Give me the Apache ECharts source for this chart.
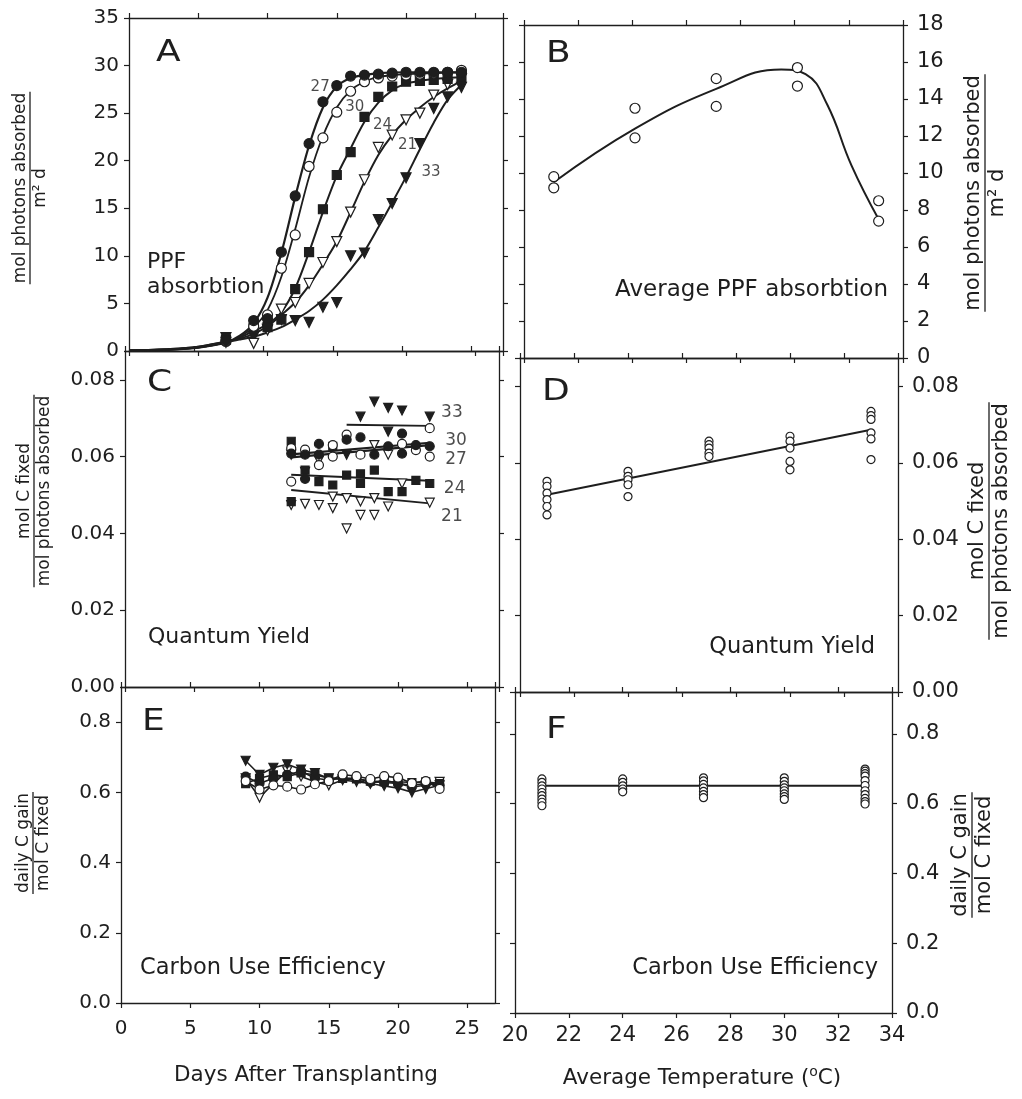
<!DOCTYPE html>
<html>
<head>
<meta charset="utf-8">
<script src="https://cdn.jsdelivr.net/npm/echarts@6.0.0/dist/echarts.min.js"></script>
<style>
html,body{margin:0;padding:0;background:#ffffff;}
#chart{width:1022px;height:1099px;}
</style>
</head>
<body>
<div id="chart"></div>
<script>
// ================= DATA =================
// Panel A: PPF absorption (mol photons m-2 d-1) vs days after transplanting, by temperature
const daysA = [7, 9, 10, 11, 12, 13, 14, 15, 16, 17, 18, 19, 20, 21, 22, 23, 24];
const ppf21 = [0.9, 0.8, 2.2, 4.4, 5.1, 7.1, 9.3, 11.5, 14.6, 18.0, 21.4, 22.7, 24.3, 25.0, 26.9, 28.0, 28.6];
const ppf24 = [1.2, 2.4, 2.5, 3.3, 6.5, 10.4, 14.9, 18.5, 20.9, 24.6, 26.7, 27.8, 28.3, 28.4, 28.5, 28.6, 28.7];
const ppf27 = [1.1, 3.2, 3.4, 10.4, 16.3, 21.8, 26.2, 27.9, 28.9, 29.0, 29.1, 29.2, 29.3, 29.3, 29.3, 29.3, 29.3];
const ppf30 = [1.0, 2.6, 3.8, 8.7, 12.2, 19.4, 22.4, 25.1, 27.3, 28.3, 28.7, 28.9, 29.0, 29.1, 29.2, 29.3, 29.5];
const ppf33 = [1.4, 1.5, 2.3, 3.3, 3.2, 3.0, 4.6, 5.1, 10.0, 10.3, 13.8, 15.5, 18.2, 21.8, 25.5, 26.7, 27.7];
// Panel A fitted curves as [day, value]
const fitA21 = [[0,0.05],[3,0.2],[5,0.45],[7,1.0],[8,1.3],[9,1.8],[10,2.6],[11,3.8],[12,5.1],[13,6.9],[14,9.1],[15,11.5],[16,14.6],[17,17.8],[18,20.6],[19,22.7],[20,24.3],[21,25.6],[22,26.7],[23,27.6],[24.3,28.6]];
const fitA24 = [[0,0.05],[3,0.15],[5,0.4],[7,0.9],[8,1.4],[9,2.1],[10,2.8],[11,4.1],[12,6.6],[13,10.4],[14,14.6],[15,18.4],[16,21.3],[17,24.1],[18,26.1],[19,27.4],[20,28.1],[21,28.4],[22,28.6],[24.3,28.8]];
const fitA27 = [[0,0.05],[3,0.15],[5,0.35],[7,0.9],[8,1.6],[9,2.9],[10,5.6],[11,10.3],[12,16.2],[13,21.6],[14,25.6],[15,27.8],[16,28.7],[17,29.0],[18,29.2],[20,29.3],[24.3,29.3]];
const fitA30 = [[0,0.05],[3,0.15],[5,0.35],[7,0.9],[8,1.5],[9,2.5],[10,4.3],[11,7.8],[12,12.8],[13,18.3],[14,22.6],[15,25.6],[16,27.4],[17,28.3],[18,28.8],[19,29.0],[20,29.1],[22,29.2],[24.3,29.3]];
const fitA33 = [[0,0.05],[3,0.2],[5,0.45],[7,0.95],[8,1.2],[9,1.5],[10,1.95],[11,2.5],[12,3.3],[13,4.2],[14,5.4],[15,6.9],[16,8.6],[17,10.5],[18,13.0],[19,15.6],[20,18.3],[21,21.2],[22,24.0],[23,26.4],[24.3,28.4]];

// Panel B: average PPF absorption vs average temperature (two replicates)
const ppfAvg = [[21.1,9.8],[21.1,9.2],[24.1,13.5],[24.1,11.9],[27.1,15.1],[27.1,13.6],[30.1,15.7],[30.1,14.7],[33.1,8.5],[33.1,7.4]];
const ppfAvgFit = [[21.1,9.5],[24.1,12.4],[27.1,14.55],[29.5,15.6],[30.4,15.35],[31.2,13.7],[32.1,10.4],[33.1,7.5]];

// Panel C: quantum yield (mol C fixed / mol photons absorbed) vs days
const qy21 = [[12,0.0605],[12,0.0474],[13,0.0560],[13,0.0477],[14,0.0590],[14,0.0474],[15,0.0496],[15,0.0466],[16,0.0492],[16,0.0413],[17,0.0483],[17,0.0448],[18,0.0630],[18,0.0492],[18,0.0448],[19,0.0605],[19,0.0470],[20,0.0530],[22,0.0480]];
const qy24 = [[12,0.0640],[12,0.0483],[13,0.0565],[14,0.0535],[15,0.0627],[15,0.0526],[16,0.0552],[17,0.0555],[17,0.0530],[18,0.0565],[19,0.0509],[20,0.0509],[21,0.0538],[22,0.0530]];
const qy27 = [[12,0.0608],[13,0.0605],[13,0.0542],[14,0.0633],[14,0.0605],[16,0.0644],[17,0.0650],[18,0.0605],[19,0.0627],[20,0.0660],[20,0.0608],[21,0.0630],[22,0.0627]];
const qy30 = [[12,0.0622],[12,0.0535],[13,0.0618],[14,0.0578],[15,0.0630],[15,0.0600],[16,0.0657],[17,0.0605],[20,0.0633],[21,0.0617],[22,0.0674],[22,0.0600]];
const qy33 = [[16,0.0605],[17,0.0704],[18,0.0743],[19,0.0727],[19,0.0665],[20,0.0720],[22,0.0704]];
const qyFit21 = [[12,0.0513],[22,0.0478]];
const qyFit24 = [[12,0.0553],[22,0.0537]];
const qyFit27 = [[12,0.0598],[22,0.0630]];
const qyFit30 = [[12,0.0606],[22,0.0636]];
const qyFit33 = [[16,0.0683],[22,0.0680]];

// Panel D: quantum yield vs average temperature
const qyTemp = [[21,0.0552],[21,0.0539],[21,0.0521],[21,0.0504],[21,0.0486],[21,0.0464],[24,0.0578],[24,0.0565],[24,0.0556],[24,0.0543],[24,0.0512],[27,0.0657],[27,0.0648],[27,0.0639],[27,0.0626],[27,0.0617],[30,0.0670],[30,0.0657],[30,0.0639],[30,0.0604],[30,0.0582],[33,0.0735],[33,0.0724],[33,0.0714],[33,0.0679],[33,0.0663],[33,0.0609]];
const qyTempFit = [[21,0.0517],[33,0.0687]];

// Panel E: carbon use efficiency (daily C gain / mol C fixed) vs days
const daysE = [9, 10, 11, 12, 13, 14, 15, 16, 17, 18, 19, 20, 21, 22, 23];
const cue21 = [0.640, 0.585, 0.625, 0.660, 0.645, 0.630, 0.620, 0.635, 0.630, 0.625, 0.635, 0.625, 0.615, 0.620, 0.630];
const cue24 = [0.625, 0.640, 0.650, 0.645, 0.655, 0.650, 0.640, 0.640, 0.638, 0.632, 0.630, 0.630, 0.628, 0.630, 0.625];
const cue27 = [0.645, 0.625, 0.640, 0.650, 0.660, 0.640, 0.635, 0.640, 0.640, 0.630, 0.628, 0.625, 0.620, 0.625, 0.620];
const cue30 = [0.632, 0.608, 0.620, 0.616, 0.608, 0.623, 0.632, 0.651, 0.646, 0.638, 0.646, 0.642, 0.626, 0.632, 0.610];
const cue33 = [0.690, 0.650, 0.670, 0.680, 0.665, 0.655, 0.640, 0.638, 0.635, 0.625, 0.618, 0.612, 0.600, 0.610, 0.620];

// Panel F: carbon use efficiency vs average temperature
const cueTemp = [[21,0.671],[21,0.661],[21,0.651],[21,0.642],[21,0.632],[21,0.623],[21,0.613],[21,0.604],[21,0.594],[24,0.671],[24,0.661],[24,0.651],[24,0.642],[24,0.634],[27,0.674],[27,0.665],[27,0.655],[27,0.645],[27,0.635],[27,0.626],[27,0.617],[30,0.674],[30,0.664],[30,0.654],[30,0.645],[30,0.637],[30,0.628],[30,0.620],[30,0.612],[33,0.699],[33,0.693],[33,0.686],[33,0.679],[33,0.666],[33,0.652],[33,0.637],[33,0.626],[33,0.615],[33,0.606],[33,0.599]];
const cueTempFit = [[21,0.651],[33,0.651]];

// Axis tick ranges
const daysRange = [0, 27, 5];
const tempRange = [20, 34, 2];

// ================= CHART =================
const FONT = 'DejaVu Sans';
const INK = '#1e1e1e';
const zip = (xs, ys) => xs.map((x, i) => [x, ys[i]]);

// grid order: 0 A, 1 C, 2 E, 3 B, 4 D, 5 F
const grids = [
  {left:129, top:18,  width:374, height:333},
  {left:125, top:351, width:374, height:336},
  {left:121, top:687, width:374, height:316},
  {left:524, top:25,  width:379, height:333},
  {left:520, top:358, width:378, height:334},
  {left:515, top:692, width:377, height:321}
].map(g => Object.assign({containLabel:false, outerBoundsMode:'none', show:false}, g));

function axis(extra, label){
  return Object.assign({
    type:'value', splitLine:{show:false},
    axisLine:{show:true, onZero:false, lineStyle:{color:INK, width:1.3}},
    axisTick:{show:true, inside:false, length:5, lineStyle:{color:INK, width:1.2}},
    axisLabel: Object.assign({show:false, fontFamily:FONT, color:INK}, label || {})
  }, extra);
}
const f0 = v => String(Math.round(v));
const f1 = v => v.toFixed(1);
const f2 = v => v.toFixed(2);

const xAxis = [], yAxis = [];
[[0,daysRange,null],[1,daysRange,null],[2,daysRange,{show:true,fontSize:20,margin:16,formatter:f0,showMaxLabel:false}],
 [3,tempRange,null],[4,tempRange,null],[5,tempRange,{show:true,fontSize:21,margin:12,formatter:f0,showMaxLabel:true}]]
 .forEach(([gi, r, lab]) => {
   xAxis.push(axis({gridIndex:gi, min:r[0], max:r[1], interval:r[2], position:'bottom'}, lab));
   xAxis.push(axis({gridIndex:gi, min:r[0], max:r[1], interval:r[2], position:'top'}));
 });
const yDefs = [
  [0, 0, 35, 5, 'left', {show:true,fontSize:20,margin:10,formatter:f0,showMaxLabel:true}],
  [1, 0, 0.0875, 0.02, 'left', {show:true,fontSize:20,margin:10,formatter:f2,showMaxLabel:false}],
  [2, 0, 0.9, 0.2, 'left', {show:true,fontSize:20,margin:10,formatter:f1,showMaxLabel:false}],
  [3, 0, 18, 2, 'right', {show:true,fontSize:21,margin:14,formatter:f0,showMaxLabel:true}],
  [4, 0, 0.0875, 0.02, 'right', {show:true,fontSize:21,margin:14,formatter:f2,showMaxLabel:false}],
  [5, 0, 0.92, 0.2, 'right', {show:true,fontSize:21,margin:14,formatter:f1,showMaxLabel:false}]
];
yDefs.forEach(([gi, mn, mx, iv, pos, lab]) => {
  yAxis.push(axis({gridIndex:gi, min:mn, max:mx, interval:iv, position:pos}, lab));
  yAxis.push(axis({gridIndex:gi, min:mn, max:mx, interval:iv, position: pos === 'left' ? 'right' : 'left'}));
});

const SYM = {
  '21': {symbol:'triangle', rotate:180, fill:'#ffffff'},
  '24': {symbol:'rect', rotate:0, fill:INK},
  '27': {symbol:'circle', rotate:0, fill:INK},
  '30': {symbol:'circle', rotate:0, fill:'#ffffff'},
  '33': {symbol:'triangle', rotate:180, fill:INK}
};
const series = [];
function curve(gi, data, width, smooth){
  series.push({type:'line', xAxisIndex:2*gi, yAxisIndex:2*gi, data, showSymbol:false, symbol:'none',
    smooth: smooth == null ? 0.3 : smooth, lineStyle:{color:INK, width}, z:2, silent:true, animation:false});
}
function marks(gi, data, key, size){
  const s = SYM[key];
  series.push({type:'scatter', xAxisIndex:2*gi, yAxisIndex:2*gi, data, symbol:s.symbol, symbolRotate:s.rotate,
    symbolSize: s.symbol === 'rect' ? size - 1 : size,
    itemStyle:{color:s.fill, borderColor:INK, borderWidth:1.2, opacity:1}, z:3, silent:true, animation:false});
}
function linked(gi, data, key, size){
  const s = SYM[key];
  series.push({type:'line', xAxisIndex:2*gi, yAxisIndex:2*gi, data, showSymbol:true, symbol:s.symbol, symbolRotate:s.rotate,
    symbolSize: s.symbol === 'rect' ? size - 1 : size, lineStyle:{color:INK, width:1.6},
    itemStyle:{color:s.fill, borderColor:INK, borderWidth:1.2}, z:3, silent:true, animation:false});
}
function tags(gi, list, fs){
  series.push({type:'scatter', xAxisIndex:2*gi, yAxisIndex:2*gi, data:list, symbolSize:1,
    itemStyle:{color:'transparent', borderWidth:0}, z:5, silent:true, animation:false,
    label:{show:true, position:'inside', formatter:p => p.data[2], fontFamily:FONT, fontSize:fs, color:INK}});
}

// Panel A
curve(0, fitA21, 2); curve(0, fitA24, 2); curve(0, fitA27, 2.2); curve(0, fitA30, 1.8); curve(0, fitA33, 2);
marks(0, zip(daysA, ppf33), '33', 10);
marks(0, zip(daysA, ppf21), '21', 10);
marks(0, zip(daysA, ppf24), '24', 10);
marks(0, zip(daysA, ppf30), '30', 10);
marks(0, zip(daysA, ppf27), '27', 10);
tags(0, [[13.8,27.7,'27'],[16.3,25.6,'30'],[18.3,23.7,'24'],[20.1,21.6,'21'],[21.8,18.8,'33']], 15);
// Panel B
curve(3, ppfAvgFit, 2, 0.45);
marks(3, ppfAvg, '30', 10);
// Panel C
curve(1, qyFit21, 1.8); curve(1, qyFit24, 2); curve(1, qyFit27, 2.4); curve(1, qyFit30, 2.2); curve(1, qyFit33, 1.8);
marks(1, qy21, '21', 9);
marks(1, qy24, '24', 9);
marks(1, qy30, '30', 9);
marks(1, qy27, '27', 9);
marks(1, qy33, '33', 9);
tags(1, [[23.6,0.0714,'33'],[23.9,0.0643,'30'],[23.9,0.0592,'27'],[23.8,0.0518,'24'],[23.6,0.0445,'21']], 17);
// Panel D
curve(4, qyTempFit, 2);
marks(4, qyTemp, '30', 8);
// Panel E
linked(2, zip(daysE, cue21), '21', 9);
linked(2, zip(daysE, cue24), '24', 9);
linked(2, zip(daysE, cue27), '27', 9);
linked(2, zip(daysE, cue33), '33', 9);
linked(2, zip(daysE, cue30), '30', 9);
// Panel F
curve(5, cueTempFit, 2);
marks(5, cueTemp, '30', 8);

// ---------- text decorations ----------
const mctx = document.createElement('canvas').getContext('2d');
function tw(t, size){ mctx.font = size + 'px "' + FONT + '"'; return mctx.measureText(t).width; }
function txt(text, x, y, size, align, extra){
  return Object.assign({type:'text', x, y, silent:true,
    style:{text, x:0, y:0, align:align || 'left', verticalAlign:'middle', fontFamily:FONT, fontSize:size, fill:INK}}, extra || {});
}
function frac(cx, cy, num, den, size){
  const w = Math.max(tw(num, size), tw(den, size)) + 2;
  return {type:'group', x:cx, y:cy, rotation:Math.PI/2, silent:true, children:[
    {type:'text', style:{text:num, x:0, y:-1, align:'center', verticalAlign:'bottom', fontFamily:FONT, fontSize:size, fill:INK}},
    {type:'line', shape:{x1:-w/2, y1:0, x2:w/2, y2:0}, style:{stroke:INK, lineWidth:1.3}},
    {type:'text', style:{text:den, x:0, y:2, align:'center', verticalAlign:'top', fontFamily:FONT, fontSize:size, fill:INK}}
  ]};
}
const letterOpts = {scaleX:1.2};
const graphic = [
  txt('A', 156, 53, 30, 'left', letterOpts),
  txt('B', 546, 54, 30, 'left', letterOpts),
  txt('C', 147, 383, 30, 'left', letterOpts),
  txt('D', 542, 392, 30, 'left', letterOpts),
  txt('E', 142, 722, 30, 'left', letterOpts),
  txt('F', 546, 730, 30, 'left', letterOpts),
  txt('PPF', 147, 262, 22),
  txt('absorbtion', 147, 287, 22),
  txt('Average PPF absorbtion', 888, 290, 23, 'right'),
  txt('Quantum Yield', 148, 637, 22),
  txt('Quantum Yield', 875, 647, 22.5, 'right'),
  txt('Carbon Use Efficiency', 140, 968, 22.5),
  txt('Carbon Use Efficiency', 878, 968, 22.5, 'right'),
  txt('Days After Transplanting', 306, 1075, 21.5, 'center'),
  {type:'text', x:702, y:1078, silent:true, style:{text:'Average Temperature ({s|o}C)', x:0, y:0, align:'center', verticalAlign:'middle',
     fontFamily:FONT, fontSize:21.5, fill:INK, lineHeight:26, rich:{s:{fontFamily:FONT, fontSize:14, verticalAlign:'top', lineHeight:14, fill:INK}}}},
  frac(30, 188, 'mol photons absorbed', 'm\u00B2 d', 17),
  frac(34, 491, 'mol C fixed', 'mol photons absorbed', 17),
  frac(33, 843, 'daily C gain', 'mol C fixed', 17),
  frac(985, 193, 'mol photons absorbed', 'm\u00B2 d', 21),
  frac(989, 521, 'mol C fixed', 'mol photons absorbed', 21),
  frac(972, 855, 'daily C gain', 'mol C fixed', 21)
];

const chart = echarts.init(document.getElementById('chart'), null, {renderer:'canvas'});
chart.setOption({
  backgroundColor:'#ffffff',
  animation:false,
  grid: grids, xAxis, yAxis, series, graphic
});
</script>
</body>
</html>
